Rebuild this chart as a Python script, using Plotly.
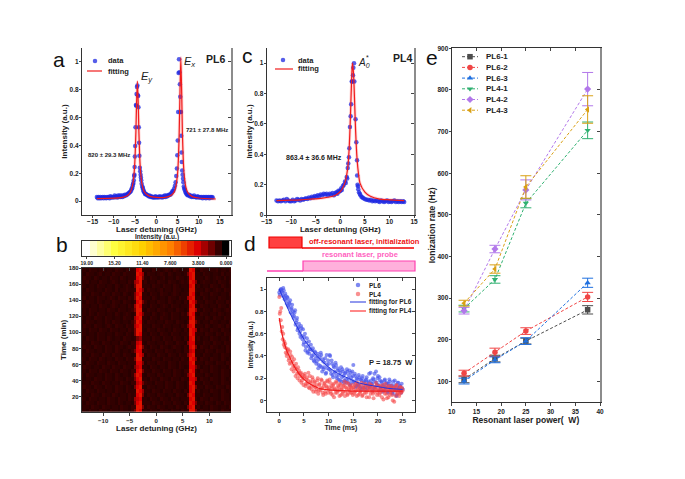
import plotly.graph_objects as go

W, H = 685, 479
FONT = "Liberation Sans"
INK = "#222222"

# ---------- panel a ----------
x_a = [-14.0,-13.8,-13.6,-13.4,-13.2,-13.0,-12.8,-12.6,-12.4,-12.2,-12.0,-11.8,-11.6,-11.4,-11.2,-11.0,-10.8,-10.6,-10.4,-10.2,-10.0,-9.8,-9.6,-9.4,-9.2,-9.0,-8.8,-8.6,-8.4,-8.2,-8.0,-7.8,-7.6,-7.4,-7.2,-7.0,-6.8,-6.6,-6.4,-6.2,-6.0,-5.85,-5.7,-5.6,-5.5,-5.4,-5.3,-5.2,-5.15,-5.1,-5.05,-4.98,-4.9,-4.8,-4.72,-4.65,-4.55,-4.45,-4.35,-4.28,-4.2,-4.12,-4.05,-3.98,-3.88,-3.8,-3.7,-3.62,-3.55,-3.45,-3.3,-3.2,-3.1,-3.0,-2.85,-2.7,-2.55,-2.4,-2.2,-2.0,-1.8,-1.6,-1.4,-1.2,-1.0,-0.8,-0.6,-0.4,-0.2,0.0,0.2,0.4,0.6,0.8,1.0,1.2,1.4,1.6,1.8,2.0,2.2,2.4,2.6,2.8,3.0,3.2,3.4,3.6,3.8,4.0,4.2,4.4,4.55,4.7,4.85,4.95,5.05,5.15,5.25,5.35,5.45,5.55,5.65,5.72,5.8,5.88,5.95,6.02,6.1,6.2,6.3,6.38,6.48,6.58,6.7,6.85,7.0,7.15,7.3,7.5,7.7,7.9,8.1,8.3,8.5,8.7,8.9,9.1,9.3,9.5,9.7,9.9,10.1,10.3,10.5,10.7,10.9,11.1,11.3,11.5,11.7,11.9,12.1,12.3,12.5,12.7,12.9,13.1,13.3,13.5,13.7,13.9,14.0]
y_a = [0.03,0.02,0.03,0.02,0.03,0.02,0.025,0.03,0.02,0.03,0.025,0.02,0.03,0.025,0.03,0.02,0.035,0.025,0.03,0.03,0.025,0.04,0.03,0.035,0.025,0.04,0.03,0.04,0.03,0.04,0.03,0.04,0.035,0.045,0.04,0.045,0.05,0.055,0.06,0.065,0.07,0.085,0.09,0.105,0.12,0.13,0.15,0.18,0.19,0.245,0.32,0.395,0.53,0.69,0.685,0.77,0.82,0.83,0.76,0.755,0.675,0.53,0.42,0.325,0.24,0.215,0.19,0.17,0.15,0.125,0.105,0.095,0.085,0.07,0.065,0.055,0.05,0.05,0.045,0.04,0.035,0.04,0.03,0.035,0.03,0.025,0.03,0.025,0.035,0.025,0.03,0.03,0.025,0.035,0.03,0.03,0.025,0.035,0.03,0.04,0.03,0.04,0.035,0.04,0.045,0.045,0.05,0.06,0.07,0.075,0.09,0.11,0.135,0.18,0.235,0.33,0.435,0.64,0.92,1.02,0.925,0.84,0.75,0.64,0.64,0.47,0.35,0.28,0.22,0.19,0.16,0.135,0.105,0.09,0.08,0.065,0.06,0.05,0.045,0.04,0.045,0.035,0.04,0.03,0.035,0.03,0.04,0.03,0.03,0.025,0.035,0.03,0.025,0.03,0.025,0.03,0.02,0.03,0.025,0.03,0.02,0.03,0.025,0.03,0.02,0.03,0.025,0.03,0.025]
x_a_fit = [-14,-10,-8,-7,-6.5,-6,-5.5,-5.2,-5,-4.8,-4.65,-4.45,-4.25,-4.1,-3.9,-3.7,-3.4,-2.9,-2.4,-1.5,0,1,2,3,4,4.5,5,5.2,5.4,5.55,5.78,6,6.15,6.35,6.55,7,7.5,8.5,10,14]
y_a_fit = [0.018,0.021,0.027,0.037,0.048,0.07,0.127,0.21,0.315,0.5,0.695,0.86,0.695,0.5,0.315,0.21,0.127,0.07,0.051,0.034,0.026,0.025,0.027,0.034,0.055,0.09,0.192,0.295,0.493,0.73,1.03,0.75,0.493,0.3,0.195,0.095,0.057,0.032,0.022,0.015]

# ---------- panel c ----------
x_c = [-13.0,-12.7,-12.4,-12.1,-11.8,-11.5,-11.2,-10.9,-10.6,-10.3,-10.0,-9.7,-9.4,-9.1,-8.8,-8.5,-8.2,-7.9,-7.6,-7.3,-7.0,-6.7,-6.4,-6.1,-5.8,-5.5,-5.2,-4.9,-4.6,-4.3,-4.0,-3.7,-3.4,-3.1,-2.8,-2.5,-2.2,-1.9,-1.6,-1.3,-1.0,-0.8,-0.6,-0.4,-0.2,0.0,0.15,0.3,0.5,0.7,0.95,1.1,1.3,1.4,1.5,1.62,1.75,1.83,1.95,2.1,2.2,2.32,2.44,2.57,2.65,2.78,2.85,3.1,3.25,3.4,3.42,3.5,3.6,3.65,3.8,3.95,4.1,4.3,4.5,4.7,5.0,5.3,5.6,5.9,6.2,6.5,6.8,7.1,7.4,7.7,8.0,8.3,8.6,8.9,9.2,9.5,9.8,10.1,10.4,10.7,11.0,11.3,11.6,11.9,12.2,12.5,12.8,13.0]
y_c = [0.095,0.09,0.095,0.09,0.095,0.10,0.09,0.105,0.095,0.09,0.09,0.10,0.09,0.095,0.105,0.10,0.095,0.105,0.10,0.105,0.11,0.105,0.115,0.11,0.12,0.115,0.125,0.12,0.13,0.125,0.135,0.13,0.14,0.135,0.14,0.13,0.14,0.135,0.145,0.13,0.145,0.15,0.14,0.16,0.155,0.16,0.175,0.165,0.19,0.20,0.22,0.21,0.25,0.24,0.31,0.34,0.38,0.44,0.58,0.65,0.73,0.88,0.88,0.92,0.97,1.0,0.88,0.63,0.48,0.36,0.26,0.20,0.19,0.17,0.15,0.14,0.13,0.12,0.115,0.11,0.105,0.10,0.10,0.095,0.10,0.09,0.095,0.09,0.095,0.09,0.085,0.095,0.09,0.085,0.09,0.095,0.085,0.09,0.085,0.09,0.095,0.085,0.09,0.085,0.09,0.085,0.09,0.085]
x_c_fit = [-13,-10,-8,-6,-4,-2,-1,0,0.5,1,1.5,1.8,2,2.2,2.4,2.5,2.7,2.9,3.1,3.4,3.7,4,5,6,8,10,13]
y_c_fit = [0.095,0.098,0.10,0.105,0.11,0.12,0.13,0.155,0.18,0.22,0.31,0.44,0.6,0.8,0.97,1.0,0.92,0.75,0.56,0.37,0.27,0.21,0.15,0.125,0.105,0.10,0.095]

# ---------- panel b ----------
x_b = [-14,-13.5,-13,-12.5,-12,-11.5,-11,-10.5,-10,-9.5,-9,-8.5,-8,-7.5,-7,-6.5,-6,-5.5,-5,-4.5,-4,-3.5,-3,-2.5,-2,-1.5,-1,-0.5,0,0.5,1,1.5,2,2.5,3,3.5,4,4.5,5,5.5,6,6.5,7,7.5,8,8.5,9,9.5,10,10.5,11,11.5,12,12.5,13,13.5,14]
y_b = [177.5,172.5,167.5,162.5,157.5,152.5,147.5,142.5,137.5,132.5,127.5,122.5,117.5,112.5,107.5,102.5,97.5,92.5,87.5,82.5,77.5,72.5,67.5,62.5,57.5,52.5,47.5,42.5,37.5,32.5,27.5,22.5,17.5,12.5,7.5,2.5]
z_b_levels = [0.6,0.7,0.85,1.0,2.0,2.6,3.0,3.3,3.8,4.4]
z_b_rows = [
"22132212312213221322 3892 2213221232132122 3982 1322122312213",
"21322123122132213222 2985 1322123213212212 4892 2132212213122",
"13221321221322132122 3894 2132212312213221 3892 2213212321312",
"22312213221232122132 5792 3122132213221232 3984 1232212132213",
"32122132212213212321 4992 2213221322132122 2892 3122132213212",
"21322122132213122322 3984 1322123122132212 2993 2213212321322",
"12213221322132213212 4892 2132213221232122 3982 1322132212213",
"23122132212321322132 4982 2213212213221322 5892 2132122132212",
"21322132122132213221 3894 3122132213212213 2984 2213221322132",
"32212213221232122132 5982 2132212321322122 3892 1322122132213",
"12132212213221322123 4992 1322132212213221 3995 2132213221232",
"22132132212213212321 3984 2213212321322132 4982 1322122132122",
"31221322132212213221 5892 2132213221322122 2893 2213213221322",
"21322122132132212213 4983 1322122132213221 3994 3122132212213",
"13221322123213221322 5892 2213221322122132 4892 2213212232132",
"22132213221322122132 4992 1322132212132213 2985 1322132213221",
"32122132212213221321 4982 2132213221322122 3983 2213221321322",
"21322132213212213221 2452 2213221322132213 2892 3122132212213",
"12213221322122132213 3782 1322122132213221 4882 2132213221322",
"23221322132213221232 3894 2132213221232213 2894 1322132212132",
"21322122132213212213 4882 3221322132212213 3782 2213221322132",
"12213221322132213221 2985 1322132213221322 4892 2132212213221",
"32132213212213221322 4992 2213221322122132 2984 1322132213212",
"21322132213221322122 3884 1322132213221322 3892 2213221322132",
"13221221322132213221 4782 2132212213221321 2884 3122132212213",
"22132213221322132213 3894 2213221322132213 3983 1322132213221",
"31322122132213212213 5982 1322132122132212 4892 2213212213221",
"21221322132213221322 4892 2132213221322132 2885 1322132213212",
"12213221322122132213 3784 3221322132213221 3982 2132212213221",
"23221322132213221321 4892 1322122132213221 3894 2213221322132",
"21322132212213221322 2985 2213221322132213 2892 3122132213212",
"12213221322132122132 3894 1322132212213221 4982 2132212213221",
"32132212213221322132 5782 2132213221322122 3893 1322132213221",
"21322132213221321221 4892 2213221322132213 2984 2213221321322",
"12213221322122132213 3994 1322132212213221 4892 3122132212213",
"22132213221322132213 4982 2132213221322132 3994 1322132213221",
]

# colour bar steps
cbar_levels = [19.0,18.05,17.1,16.15,15.2,14.25,13.3,12.35,11.4,10.45,9.5,8.55,7.6,6.65,5.7,4.75,3.8,2.85,1.9,0.95,0.0]
cbar_ticks = [19.0,15.2,11.4,7.6,3.8,0.0]
cbar_ticklabels = ["19.00","15.20","11.40","7.600","3.800","0.000"]

# ---------- panel d ----------
x_d = [0.0,0.2,0.4,0.6,0.8,1.0,1.2,1.4,1.6,1.8,2.0,2.2,2.4,2.6,2.8,3.0,3.2,3.4,3.6,3.8,4.0,4.2,4.4,4.6,4.8,5.0,
5.2,5.4,5.6,5.8,6.0,6.2,6.4,6.6,6.8,7.0,7.2,7.4,7.6,7.8,8.0,8.2,8.4,8.6,8.8,9.0,9.2,9.4,9.6,9.8,10.0,
10.2,10.4,10.6,10.8,11.0,11.2,11.4,11.6,11.8,12.0,12.2,12.4,12.6,12.8,13.0,13.2,13.4,13.6,13.8,14.0,14.2,14.4,14.6,14.8,15.0,
15.2,15.4,15.6,15.8,16.0,16.2,16.4,16.6,16.8,17.0,17.2,17.4,17.6,17.8,18.0,18.2,18.4,18.6,18.8,19.0,19.2,19.4,19.6,19.8,20.0,
20.2,20.4,20.6,20.8,21.0,21.2,21.4,21.6,21.8,22.0,22.2,22.4,22.6,22.8,23.0,23.2,23.4,23.6,23.8,24.0,24.2,24.4,24.6,24.8,25.0,
0.1,0.3,0.5,0.7,0.9,1.1,1.3,1.5,1.7,1.9,2.1,2.3,2.5,2.7,2.9,3.1,3.3,3.5,3.7,3.9,4.1,4.3,4.5,4.7,4.9,
5.1,5.3,5.5,5.7,5.9,6.1,6.3,6.5,6.7,6.9,7.1,7.3,7.5,7.7,7.9,8.1,8.3,8.5,8.7,8.9,9.1,9.3,9.5,9.7,9.9,
10.1,10.3,10.5,10.7,10.9,11.1,11.3,11.5,11.7,11.9,12.1,12.3,12.5,12.7,12.9,13.1,13.3,13.5,13.7,13.9,14.1,14.3,14.5,14.7,14.9,
15.1,15.3,15.5,15.7,15.9,16.1,16.3,16.5,16.7,16.9,17.1,17.3,17.5,17.7,17.9,18.1,18.3,18.5,18.7,18.9,19.1,19.3,19.5,19.7,19.9,
20.1,20.3,20.5,20.7,20.9,21.1,21.3,21.5,21.7,21.9,22.1,22.3,22.5,22.7,22.9,23.1,23.3,23.5,23.7,23.9,24.1,24.3,24.5,24.7,24.9]
y_d_pl6 = [0.97,0.99,1.00,0.97,1.01,0.93,0.96,0.90,0.93,0.85,0.88,0.90,0.82,0.86,0.80,0.76,0.81,0.70,0.74,0.65,0.69,0.62,0.67,0.58,0.64,0.52,
0.60,0.48,0.56,0.44,0.53,0.46,0.50,0.40,0.47,0.36,0.44,0.38,0.35,0.42,0.32,0.39,0.43,0.30,0.37,0.28,0.34,0.24,0.41,0.29,0.33,
0.41,0.27,0.36,0.23,0.31,0.26,0.34,0.22,0.29,0.19,0.27,0.25,0.17,0.28,0.22,0.18,0.25,0.16,0.26,0.20,0.27,0.15,0.21,0.26,0.32,
0.17,0.22,0.13,0.19,0.14,0.21,0.11,0.18,0.20,0.12,0.17,0.10,0.19,0.14,0.16,0.24,0.12,0.18,0.15,0.20,0.11,0.17,0.26,0.14,0.22,
0.09,0.18,0.12,0.16,0.08,0.14,0.19,0.11,0.15,0.07,0.13,0.17,0.10,0.14,0.06,0.12,0.18,0.09,0.04,0.16,0.11,0.13,0.08,0.15,0.10,
0.95,1.00,0.98,0.94,0.99,0.91,0.94,0.87,0.92,0.84,0.87,0.79,0.83,0.77,0.74,0.79,0.68,0.72,0.63,0.66,0.60,0.57,0.65,0.55,0.50,
0.57,0.45,0.52,0.43,0.49,0.42,0.46,0.38,0.45,0.41,0.35,0.43,0.33,0.40,0.29,0.37,0.31,0.41,0.26,0.35,0.30,0.38,0.25,0.32,0.36,
0.28,0.40,0.24,0.33,0.21,0.30,0.25,0.32,0.20,0.27,0.23,0.18,0.30,0.21,0.26,0.16,0.24,0.19,0.28,0.17,0.23,0.14,0.25,0.18,0.22,
0.16,0.24,0.12,0.20,0.15,0.23,0.13,0.19,0.10,0.22,0.16,0.12,0.18,0.21,0.11,0.17,0.13,0.25,0.15,0.09,0.19,0.24,0.12,0.16,0.20,
0.14,0.21,0.10,0.17,0.13,0.09,0.18,0.12,0.16,0.08,0.15,0.19,0.11,0.13,0.07,0.17,0.10,0.14,0.05,0.12,0.16,0.09,0.13,0.07,0.11]
y_d_pl4 = [0.93,0.80,0.83,0.66,0.60,0.53,0.51,0.47,0.42,0.46,0.38,0.44,0.34,0.39,0.31,0.37,0.29,0.33,0.24,0.30,0.27,0.22,0.25,0.18,0.23,0.20,
0.24,0.15,0.21,0.18,0.12,0.22,0.16,0.10,0.19,0.13,0.17,0.08,0.14,0.20,0.09,0.15,0.11,0.18,0.07,0.13,0.16,0.06,0.12,0.17,0.10,
0.19,0.08,0.13,0.05,0.15,0.11,0.07,0.16,0.09,0.12,0.04,0.14,0.10,0.06,0.13,0.17,0.08,0.11,0.05,0.15,0.09,0.12,0.07,0.14,0.10,
0.06,0.13,0.09,0.16,0.05,0.11,0.08,0.14,0.04,0.12,0.10,0.15,0.07,0.09,0.13,0.03,0.11,0.14,0.08,0.06,0.12,0.10,0.16,0.05,0.09,
0.13,0.07,0.11,0.03,0.14,0.09,0.06,0.12,0.02,0.10,0.13,0.05,0.08,0.11,0.00,0.09,0.12,0.04,0.14,0.07,0.10,0.06,0.12,0.08,0.09,
0.78,0.72,0.62,0.55,0.50,0.48,0.43,0.40,0.45,0.36,0.33,0.41,0.28,0.35,0.26,0.31,0.22,0.28,0.20,0.25,0.18,0.24,0.16,0.21,0.14,
0.22,0.13,0.19,0.15,0.25,0.11,0.17,0.13,0.21,0.08,0.16,0.12,0.10,0.18,0.06,0.14,0.09,0.19,0.11,0.05,0.15,0.08,0.13,0.18,0.07,
0.12,0.16,0.06,0.11,0.14,0.03,0.10,0.17,0.07,0.13,0.09,0.15,0.05,0.11,0.08,0.14,0.04,0.12,0.16,0.06,0.10,0.13,0.07,0.11,0.05,
0.12,0.08,0.15,0.04,0.10,0.13,0.06,0.09,0.16,0.05,0.11,0.07,0.14,0.03,0.12,0.09,0.15,0.06,0.10,0.13,0.02,0.08,0.11,0.14,0.07,
0.10,0.05,0.13,0.08,0.11,0.01,0.09,0.15,0.06,0.12,0.03,0.10,0.07,0.13,0.05,0.11,-0.01,0.09,0.13,0.06,0.10,0.04,0.12,0.07,0.11]
x_d_fit6 = [0,1,2,3,4,5,6,7,8,9,10,12,14,16,18,20,22,25]
y_d_fit6 = [1.0,0.90,0.80,0.71,0.63,0.55,0.49,0.43,0.38,0.34,0.30,0.24,0.20,0.16,0.14,0.125,0.11,0.10]
x_d_fit4 = [0,0.5,1,1.5,2,3,4,5,6,7,8,10,12,15,20,25]
y_d_fit4 = [0.74,0.61,0.52,0.45,0.40,0.31,0.24,0.19,0.155,0.13,0.11,0.095,0.09,0.085,0.085,0.085]

# ---------- panel e ----------
power = [12.5,18.75,25,37.5]
series_e = ["PL6-1","PL6-2","PL6-3","PL4-1","PL4-2","PL4-3"]
pl6_1 = [105,155,197,272]
pl6_1_err = [8,8,7,10]
pl6_2 = [120,170,221,303]
pl6_2_err = [7,10,8,11]
pl6_3 = [101,152,197,337]
pl6_3_err = [7,7,8,11]
pl4_1 = [275,345,528,703]
pl4_1_err = [8,9,11,20]
pl4_2 = [270,418,560,802]
pl4_2_err = [8,9,24,40]
pl4_3 = [288,370,567,753]
pl4_3_err = [7,10,27,33]
values_e = [pl6_1,pl6_2,pl6_3,pl4_1,pl4_2,pl4_3]
errors_e = [pl6_1_err,pl6_2_err,pl6_3_err,pl4_1_err,pl4_2_err,pl4_3_err]
colors_e = ["#4d4d4d","#f04545","#1f70e0","#2fb070","#b278ea","#d9a015"]
symbols_e = ["square","circle","triangle-up","triangle-down","diamond","triangle-left"]

fig = go.Figure()
layout = {}
ax_id = [1]


def bold(size, color=INK):
    return dict(size=size, family=FONT, color=color, weight=700)


def panel(l, r, t, b, xr, yr, xt, yt, xtitle=None, ytitle=None, tf=6.5, top=True, right=True,
          right_gray=True, top_color="#333333", tl=None, title_size=8, xtick=2, xshift=0):
    n = ax_id[0]
    ax_id[0] += 2
    dx = [l / W, r / W]
    dy = [1 - b / H, 1 - t / H]
    s = "" if n == 1 else str(n)
    xa_d = dict(domain=dx, range=xr, anchor="y" + s, tickvals=xt, ticks="outside", ticklen=xtick,
                tickwidth=1, showline=True, linecolor="#333333", linewidth=1.2, showgrid=False,
                zeroline=False, tickfont=bold(tf), automargin=False, ticklabelstandoff=xshift)
    if tl:
        xa_d["ticktext"] = tl
    if xtitle:
        xa_d["title"] = dict(text=xtitle, standoff=0, font=bold(title_size))
    ya_d = dict(domain=dy, range=yr, anchor="x" + s, tickvals=yt, ticks="outside", ticklen=2,
                tickwidth=1, showline=True, linecolor="#333333", linewidth=1.2, showgrid=False,
                zeroline=False, tickfont=bold(tf), automargin=False, ticklabelstandoff=-1)
    if ytitle:
        ya_d["title"] = dict(text=ytitle, standoff=0, font=bold(title_size))
    layout["xaxis" + s] = xa_d
    layout["yaxis" + s] = ya_d
    s2 = str(n + 1)
    layout["xaxis" + s2] = dict(domain=dx, range=xr, anchor="y" + s, overlaying="x" + s, side="top", tickvals=xt if top else [],
                                ticks="inside", ticklen=3, tickwidth=1, showline=top, linecolor=top_color, linewidth=1.2,
                                showticklabels=False, showgrid=False, zeroline=False)
    layout["yaxis" + s2] = dict(domain=dy, range=yr, anchor="x" + s, overlaying="y" + s, side="right", tickvals=yt if right else [],
                                ticks="inside", ticklen=3, tickwidth=1, showline=right,
                                linecolor="#8c8c8c" if right_gray else "#333333", linewidth=2 if right_gray else 1.2,
                                showticklabels=False, showgrid=False, zeroline=False)
    fig.add_trace(go.Scatter(x=[None], y=[None], xaxis="x" + s2, yaxis="y" + s2, showlegend=False, hoverinfo="skip"))
    return "x" + s, "y" + s


BLUE = "rgba(30,40,225,0.75)"
RED = "#f01c1c"
HALO = "rgba(255,110,110,0.3)"

# a
xa, ya = panel(82, 231, 48, 215, [-17.5, 17.6], [-0.1, 1.1], [-15,-10,-5,0,5,10,15], [0,0.2,0.4,0.6,0.8,1.0],
               "Laser detuning (GHz)", "Intensity (a.u.)", top=False, xshift=-2)
fig.add_trace(go.Scatter(x=x_a_fit, y=y_a_fit, mode="lines", line=dict(color=HALO, width=3, shape="spline", smoothing=0.6), xaxis=xa, yaxis=ya, showlegend=False))
fig.add_trace(go.Scatter(x=x_a, y=y_a, mode="markers", marker=dict(size=4.5, color=BLUE), xaxis=xa, yaxis=ya, showlegend=False))
fig.add_trace(go.Scatter(x=x_a_fit, y=y_a_fit, mode="lines", line=dict(color=RED, width=1.2, shape="spline", smoothing=0.6), xaxis=xa, yaxis=ya, showlegend=False))

# c
xc, yc = panel(266.7, 414, 48, 215, [-15, 15], [0, 1.1], [-15,-10,-5,0,5,10,15], [0,0.2,0.4,0.6,0.8,1.0],
               "Laser detuning (GHz)", "Intensity (a.u.)", top=False, xshift=-2)
fig.add_trace(go.Scatter(x=x_c_fit, y=y_c_fit, mode="lines", line=dict(color=HALO, width=3, shape="spline", smoothing=0.6), xaxis=xc, yaxis=yc, showlegend=False))
fig.add_trace(go.Scatter(x=x_c, y=y_c, mode="markers", marker=dict(size=4.5, color=BLUE), xaxis=xc, yaxis=yc, showlegend=False))
fig.add_trace(go.Scatter(x=x_c_fit, y=y_c_fit, mode="lines", line=dict(color=RED, width=1.2, shape="spline", smoothing=0.6), xaxis=xc, yaxis=yc, showlegend=False))

# shared colour scale
cs = [[0, "#000000"], [0.2, "#dc0000"], [0.4, "#ff8000"], [0.6, "#ffd000"], [0.8, "#ffff40"], [1, "#ffffff"]]

# b heatmap
xb, yb = panel(82, 231, 268, 411.7, [-14, 14.1], [1.3, 180], [-10,-5,0,5,10], [20,40,60,80,100,120,140,160,180],
               "Laser detuning (GHz)", "Time (min)", tf=6, top=True, right=False, xtick=3)
z_b = [[z_b_levels[int(c)] for c in row.replace(" ", "")] for row in z_b_rows]
fig.add_trace(go.Heatmap(x=x_b, y=y_b, z=z_b, colorscale=cs, zmin=0, zmax=19, showscale=False, xaxis=xb, yaxis=yb))

# colour bar
xcb, ycb = panel(82, 231, 241, 255.7, [19.64, -0.68], [0, 1], cbar_ticks, [], tf=5, top=False, right=True,
                 right_gray=False, tl=cbar_ticklabels, xtick=2)
fig.add_trace(go.Heatmap(x=cbar_levels, y=[0, 1], z=[cbar_levels, cbar_levels], colorscale=cs, zmin=0, zmax=19,
                         showscale=False, xaxis=xcb, yaxis=ycb))
layout["yaxis" + ycb[1:]]["ticks"] = ""
layout["xaxis" + str(int(xcb[1:]) + 1)].update(showline=True, ticks="", tickvals=[])

# d
xd, yd = panel(266.7, 415, 278, 411.7, [-2.55, 27.5], [-0.1, 1.1], [0,5,10,15,20,25], [0,0.2,0.4,0.6,0.8,1.0],
               "Time (ms)", "Intensity (a.u.)", tf=6, right_gray=False, title_size=7, xtick=3)
fig.add_trace(go.Scatter(x=x_d, y=y_d_pl6, mode="markers", marker=dict(size=4, color="rgba(70,85,235,0.65)"), xaxis=xd, yaxis=yd, showlegend=False))
fig.add_trace(go.Scatter(x=x_d, y=y_d_pl4, mode="markers", marker=dict(size=4, color="rgba(245,70,70,0.6)"), xaxis=xd, yaxis=yd, showlegend=False))
fig.add_trace(go.Scatter(x=x_d_fit6, y=y_d_fit6, mode="lines", line=dict(color="#2233dd", width=1, shape="spline"), xaxis=xd, yaxis=yd, showlegend=False))
fig.add_trace(go.Scatter(x=x_d_fit4, y=y_d_fit4, mode="lines", line=dict(color="#f01c1c", width=1.2, shape="spline"), xaxis=xd, yaxis=yd, showlegend=False))

# e
xe, ye = panel(451.7, 600, 48.3, 402.3, [10, 40], [50, 900], [10,15,20,25,30,35,40], [100,200,300,400,500,600,700,800,900],
               "Resonant laser power(  W)", "Ionization rate (Hz)", title_size=8.5, xtick=3)
for vals, errs, col, sym in zip(values_e, errors_e, colors_e, symbols_e):
    fig.add_trace(go.Scatter(x=power, y=vals, mode="lines+markers", line=dict(color=col, width=1, dash="3px,2px"),
                             marker=dict(symbol=sym, size=5.5, color=col),
                             error_y=dict(type="data", array=errs, color=col, thickness=1, width=5.5),
                             xaxis=xe, yaxis=ye, showlegend=False))

# decoration layer, in page pixels: hand-made legends
layout["xaxis30"] = dict(domain=[0, 1], range=[0, W], visible=False, anchor="y30")
layout["yaxis30"] = dict(domain=[0, 1], range=[H, 0], visible=False, anchor="x30")


def legend_sample(x0, x1, y, color, width=1, marker=None, size=5, dash=None):
    if x1 > x0:
        fig.add_trace(go.Scatter(x=[x0, x1], y=[y, y], mode="lines", line=dict(color=color, width=width, dash=dash),
                                 xaxis="x30", yaxis="y30", showlegend=False, hoverinfo="skip"))
    if marker:
        fig.add_trace(go.Scatter(x=[(x0 + x1) / 2], y=[y], mode="markers", marker=dict(symbol=marker, size=size, color=color),
                                 xaxis="x30", yaxis="y30", showlegend=False, hoverinfo="skip"))


annos = []


def label(x, y, text, size=8, color=INK, bold_text=True, anchor="left", angle=0):
    t = f"<b>{text}</b>" if bold_text else text
    annos.append(dict(x=x / W, y=1 - y / H, xref="paper", yref="paper", text=t, showarrow=False, xanchor=anchor, yanchor="middle",
                      font=dict(size=size, family=FONT, color=color), textangle=angle))


legend_sample(95, 95, 61, BLUE, marker="circle", size=4.5)
legend_sample(87, 102, 71, RED, width=1.2)
label(106, 61, "data", 7.5)
label(106, 71, "fitting", 7.5)
legend_sample(283, 283, 60, BLUE, marker="circle", size=4.5)
legend_sample(275, 293, 69, RED, width=1.2)
label(296, 60, "data", 7.5)
label(296, 69, "fitting", 7.5)
legend_sample(358, 358, 285, "rgba(70,85,235,0.7)", marker="circle", size=4.5)
legend_sample(358, 358, 294, "rgba(245,70,70,0.6)", marker="circle", size=4.5)
legend_sample(350, 366, 302, "#2233dd", width=1)
legend_sample(350, 366, 311, "#ff8888", width=2)
label(367, 285, "PL6", 6.5)
label(367, 294, "PL4", 6.5)
label(367, 302, "fitting for PL6", 6.5)
label(367, 311, "fitting for PL4", 6.5)
for i, (nm, col, sym) in enumerate(zip(series_e, colors_e, symbols_e)):
    yy = 56.7 + i * 10.7
    legend_sample(462, 478, yy, col, dash="3px,2px", marker=sym, size=5.5)
    label(484, yy, nm, 8)

label(59, 59, "a", 21, "#111", False, "center")
label(62, 244, "b", 21, "#111", False, "center")
label(247, 56, "c", 21, "#111", False, "center")
label(250, 243, "d", 21, "#111", False, "center")
label(432, 57, "e", 21, "#111", False, "center")
label(215, 59, "PL6", 10.5, anchor="center")
label(402, 58, "PL4", 10.5, anchor="center")
label(147, 77, "<i>E<sub>y</sub></i>", 11, bold_text=False, anchor="center")
label(190, 62, "<i>E<sub>x</sub></i>", 11, bold_text=False, anchor="center")
label(364, 63, "<i>A<sub>0</sub></i>", 10, bold_text=False, anchor="center")
label(367, 57, "*", 7, bold_text=False, anchor="center")
label(86, 155, "820 ± 29.3 MHz", 6)
label(184, 129.6, "721 ± 27.8 MHz", 6)
label(284, 157, "863.4 ± 36.6 MHz", 7)
label(367, 362, "P = 18.75  W", 7.5)
label(157, 236.5, "Intensity (a.u.)", 6.5, anchor="center")
label(307, 241, "off-resonant laser, initialization", 7.5, "#ee1111")
label(320, 255, "resonant laser, probe", 7.5, "#ff5fc0")


def px_rect(x0, y0, x1, y1, fill, line, w=1.2):
    return dict(type="rect", xref="paper", yref="paper", x0=x0 / W, x1=x1 / W, y0=1 - y1 / H, y1=1 - y0 / H,
                fillcolor=fill, line=dict(color=line, width=w))


def px_line(x0, y0, x1, y1, color, w=1.5):
    return dict(type="line", xref="paper", yref="paper", x0=x0 / W, x1=x1 / W, y0=1 - y0 / H, y1=1 - y1 / H,
                line=dict(color=color, width=w))


shapes = [px_rect(269, 237, 302, 248, "#ff4040", "#f00000"), px_line(302, 248, 414, 248, "#f00000"),
          px_rect(303, 261, 415, 271, "#ffb0dc", "#ff40b0"), px_line(267, 271, 303, 271, "#ff40b0")]

fig.update_layout(width=W, height=H, margin=dict(l=0, r=0, t=0, b=0), paper_bgcolor="white", plot_bgcolor="rgba(0,0,0,0)",
                  annotations=annos, shapes=shapes, showlegend=False, **layout)
fig.write_html("out.html", config={"displayModeBar": False},
               post_script="document.body.style.margin='0';window.dispatchEvent(new Event('resize'));")
